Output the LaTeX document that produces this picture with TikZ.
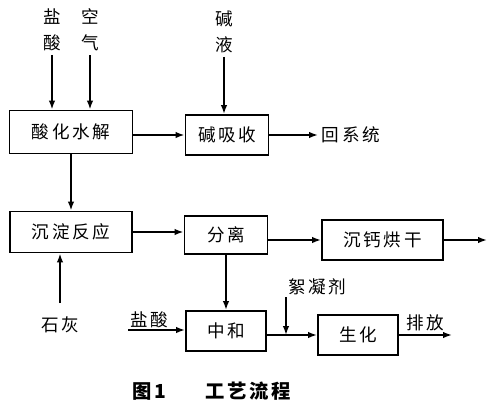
\documentclass[tikz,border=0pt]{standalone}
\usepackage{fontspec}
\setmainfont{Noto Sans CJK SC}[LetterSpace=15]
\usepackage{tikz}
\usetikzlibrary{arrows.meta, positioning}

\tikzset{
  procbox/.style={draw, line width=1.1pt, inner sep=0pt, font=\fontsize{10}{12}\selectfont},
  feedlbl/.style={align=center, inner sep=2pt, font=\fontsize{10}{14.8}\selectfont},
  flowline/.style={line width=0.9pt, -{Latex[length=1.8mm,width=1.3mm]}}
}

\begin{document}
\begin{tikzpicture}[x=0.02cm, y=-0.02cm]
  \useasboundingbox (0,0) rectangle (500,414);

  % process boxes
  \node[procbox, minimum width=2.46cm, minimum height=0.86cm] (hyd)  at (71,132)    {酸化水解};
  \node[procbox, minimum width=1.66cm, minimum height=0.8cm]  (abs)  at (227,135)   {碱吸收};
  \node[procbox, minimum width=2.44cm, minimum height=0.82cm] (prec) at (71,232)    {沉淀反应};
  \node[procbox, minimum width=1.66cm, minimum height=0.76cm] (sep)  at (226,235)   {分离};
  \node[procbox, minimum width=2.42cm, minimum height=0.8cm]  (dry)  at (382.5,240) {沉钙烘干};
  \node[procbox, minimum width=1.6cm,  minimum height=0.8cm]  (neu)  at (226,331)   {中和};
  \node[procbox, minimum width=1.6cm,  minimum height=0.8cm]  (bio)  at (358,335)   {生化};

  % feeds and outlets
  \node[feedlbl] (acidA) at (52,30)  {盐\\酸};
  \node[feedlbl] (air)   at (90,30)  {空\\气};
  \node[feedlbl] (lye)   at (224,32) {碱\\液};
  \node[feedlbl, anchor=west] (ret) at (318,135) {回系统};
  \node[feedlbl] (lime)  at (60,325) {石灰};
  \coordinate (acidin) at (128,330);
  \node[feedlbl, above right, inner sep=1pt] (acidB) at (acidin) {盐酸};
  \coordinate (flocin) at (286,297);
  \node[feedlbl, above right, inner sep=1pt] (floc) at (flocin) {絮凝剂};
  \coordinate (dryout) at (487,240);
  \coordinate (bioout) at (452,335);

  \draw[flowline] (acidA.south) -- (acidA.south |- hyd.north);
  \draw[flowline] (air.south) -- (air.south |- hyd.north);
  \draw[flowline] (lye.south) -- (lye.south |- abs.north);
  \draw[flowline] (hyd.east |- abs.west) -- (abs.west);
  \draw[flowline] (abs.east) -- (ret.west);
  \draw[flowline] (hyd.south) -- (prec.north);
  \draw[flowline, shorten <=0.2cm] (lime.north) -- (lime.north |- prec.south);
  \draw[flowline] (prec.east) -- (prec.east -| sep.west);
  \draw[flowline] (sep.east |- dry.west) -- (dry.west);
  \draw[flowline] (dry.east) -- (dryout);
  \draw[flowline] (sep.south) -- (neu.north);
  \draw[flowline] (acidin) -- (acidin -| neu.west);
  \draw[flowline] (neu.east |- bio.west) -- (bio.west);
  \draw[flowline] (flocin) -- (flocin |- bio.west);
  \draw[flowline] (bio.east) -- (bioout) node[midway, above, feedlbl] (vent) {排放};

  % caption
  \node[anchor=west, inner sep=0pt, font=\bfseries\fontsize{11}{13}\selectfont] (cap) at (132,391) {图\,1\hspace{2em}工艺流程};
\end{tikzpicture}
\end{document}
